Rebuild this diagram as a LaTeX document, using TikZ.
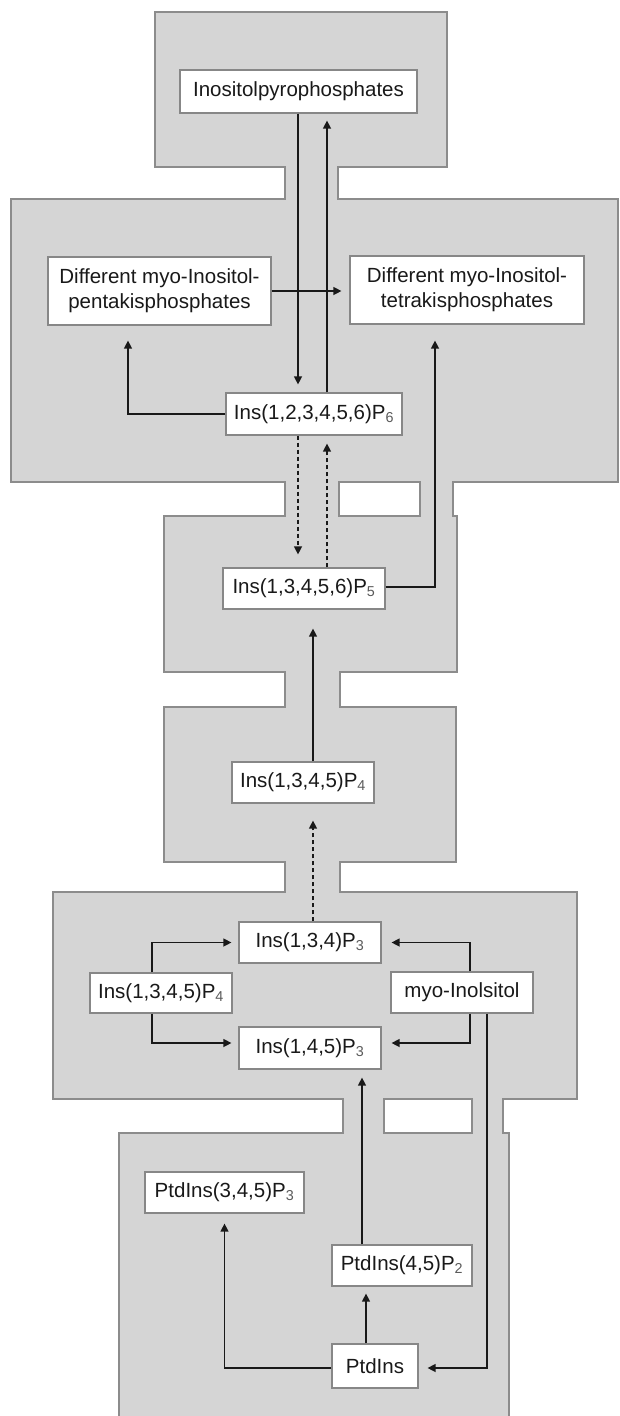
\documentclass[tikz,border=0pt]{standalone}
\usepackage{fontspec}
\setmainfont{Liberation Sans}
\usetikzlibrary{arrows.meta,calc}
\definecolor{bgfill}{RGB}{213,213,213}
\definecolor{bgline}{RGB}{140,140,140}
\definecolor{boxline}{RGB}{135,135,135}
\definecolor{ink}{RGB}{25,25,25}
\definecolor{subink}{RGB}{90,90,90}
\tikzset{
  lab/.style={draw=boxline, line width=1.2pt, fill=white, inner sep=0pt,
    font=\fontsize{20.5}{25}\selectfont, text=ink, align=center},
  arr/.style={draw=ink, line width=1.3pt, -{Triangle[length=8pt,width=8pt]}},
  dsh/.style={arr, dash pattern=on 4pt off 3pt},
  area/.style={fill=bgfill, draw=bgline, line width=1.3pt},
  hole/.style={fill=white, draw=bgline, line width=1.3pt}
}
\newcommand{\sub}[1]{\textsubscript{\color{subink}#1}}
\begin{document}
\begin{tikzpicture}[x=1pt,y=-1pt]
\useasboundingbox (0,0) rectangle (620,1416);
\begin{scope}
\clip (0,0) rectangle (620,1416);
\path[area] (155,12) -- (447,12) -- (447,167) -- (338,167) -- (338,199)
  -- (618,199) -- (618,482) -- (453,482) -- (453,516) -- (457,516)
  -- (457,672) -- (340,672) -- (340,707) -- (456,707) -- (456,862)
  -- (340,862) -- (340,892) -- (577,892) -- (577,1099) -- (503,1099)
  -- (503,1133) -- (509,1133) -- (509,1430) -- (119,1430) -- (119,1133)
  -- (343,1133) -- (343,1099) -- (53,1099) -- (53,892) -- (285,892)
  -- (285,862) -- (164,862) -- (164,707) -- (285,707) -- (285,672)
  -- (164,672) -- (164,516) -- (285,516) -- (285,482) -- (11,482)
  -- (11,199) -- (285,199) -- (285,167) -- (155,167) -- cycle;
\path[hole] (339,482) rectangle (420,516);
\path[hole] (384,1099) rectangle (472,1133);
\end{scope}

% column coordinates
\coordinate (cA) at (298,0);
\coordinate (cB) at (327,0);
\coordinate (cC) at (313,0);
\coordinate (cD) at (152,0);
\coordinate (cE) at (470,0);
\coordinate (cF) at (487,0);
\coordinate (cG) at (366,0);
\coordinate (cH) at (362,0);
\coordinate (cL) at (128,0);
\coordinate (cR) at (435,0);

% nodes
\node[lab, minimum width=237pt, minimum height=43pt] (pyro) at (298.5,91.5) {Inositolpyrophosphates};
\node[lab, minimum width=223pt, minimum height=68pt] (penta) at (159.5,291) {Different myo-Inositol-\\pentakisphosphates};
\node[lab, minimum width=234pt, minimum height=68pt] (tetra) at (467,290) {Different myo-Inositol-\\tetrakisphosphates};
\node[lab, minimum width=176pt, minimum height=42pt] (p6) at (314,414) {Ins(1,2,3,4,5,6)P\sub{6}};
\node[lab, minimum width=162pt, minimum height=41pt] (p5) at (304,588.5) {Ins(1,3,4,5,6)P\sub{5}};
\node[lab, minimum width=142pt, minimum height=41pt] (p4a) at (303,782.5) {Ins(1,3,4,5)P\sub{4}};
\node[lab, minimum width=142pt, minimum height=41pt] (p3a) at (310,942.5) {Ins(1,3,4)P\sub{3}};
\node[lab, minimum width=142pt, minimum height=40pt] (p4b) at (161,993) {Ins(1,3,4,5)P\sub{4}};
\node[lab, minimum width=142pt, minimum height=41pt] (myo) at (462,992.5) {myo-Inolsitol};
\node[lab, minimum width=142pt, minimum height=42pt] (p3b) at (310,1048) {Ins(1,4,5)P\sub{3}};
\node[lab, minimum width=159pt, minimum height=41pt] (ptdp3) at (224.5,1192.5) {PtdIns(3,4,5)P\sub{3}};
\node[lab, minimum width=140pt, minimum height=41pt] (ptdp2) at (402,1265.5) {PtdIns(4,5)P\sub{2}};
\node[lab, minimum width=86pt, minimum height=44pt] (ptd) at (375,1366) {PtdIns};

% connectors
\draw[arr, shorten >=8pt] (pyro.south -| cA) -- (p6.north -| cA);
\draw[arr, shorten >=7pt] (p6.north -| cB) -- (pyro.south -| cB);
\draw[arr, shorten >=8pt] (penta.east) -- (penta.east -| tetra.west);
\draw[arr, shorten >=15pt] (p6.west) -| (penta.south -| cL);
\draw[arr, shorten >=16pt] ([yshift=1.5pt]p5.east) -| (tetra.south -| cR);
\draw[dsh, shorten >=13pt] (p6.south -| cA) -- (p5.north -| cA);
\draw[dsh, shorten >=8pt] (p5.north -| cB) -- (p6.south -| cB);
\draw[arr, shorten >=19pt] (p4a.north -| cC) -- (p5.south -| cC);
\draw[dsh, shorten >=17pt] (p3a.north -| cC) -- (p4a.south -| cC);
\draw[arr, shorten >=7pt] (p4b.north -| cD) |- (p3a.west);
\draw[arr, shorten >=7pt] (p4b.south -| cD) |- ([yshift=5pt]p3b.west);
\draw[arr, shorten >=10pt] (myo.north -| cE) |- (p3a.east);
\draw[arr, shorten >=10pt] (myo.south -| cE) |- ([yshift=5pt]p3b.east);
\draw[arr, shorten >=9pt] (myo.south -| cF) |- ([yshift=-2pt]ptd.east);
\draw[arr, shorten >=7pt] (ptd.north -| cG) -- (ptdp2.south -| cG);
\draw[arr, shorten >=8pt] (ptdp2.north -| cH) -- (p3b.south -| cH);
\draw[arr, shorten >=10pt] ([yshift=-2pt]ptd.west) -| (ptdp3.south);
\end{tikzpicture}
\end{document}
